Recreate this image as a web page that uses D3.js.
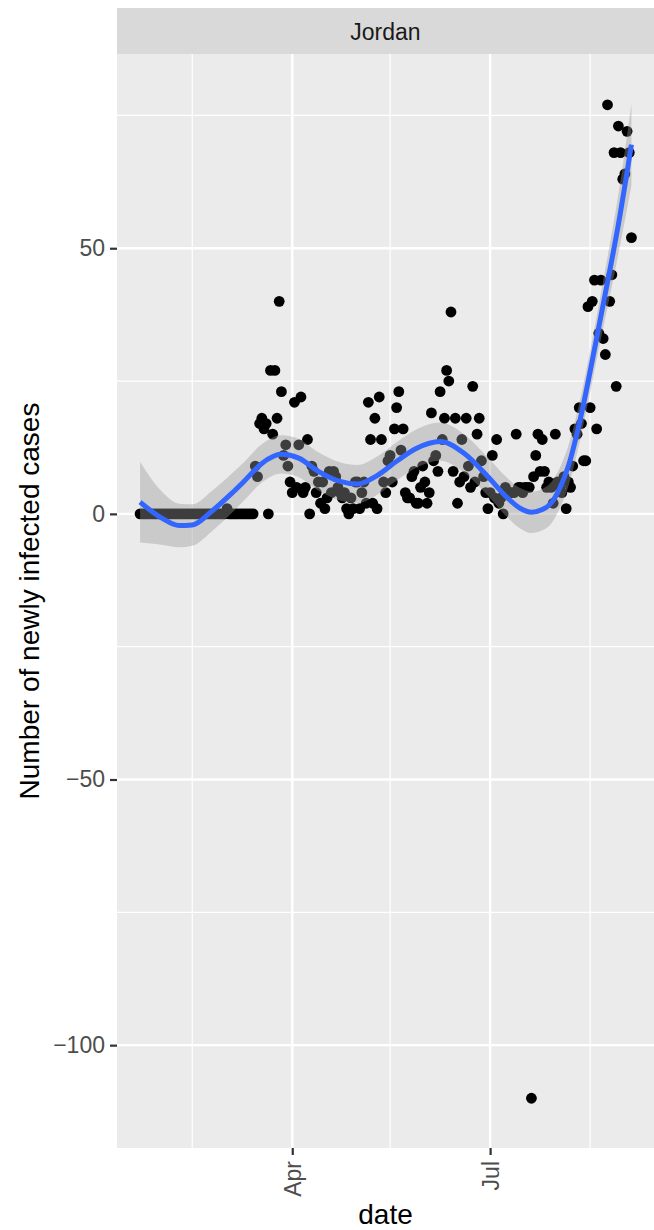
<!DOCTYPE html>
<html>
<head>
<meta charset="utf-8">
<script src="https://cdn.jsdelivr.net/npm/d3@7"></script>
<style>
  body { margin: 0; background: #fff; }
  svg { display: block; font-family: "Liberation Sans", Arial, Helvetica, sans-serif; }
</style>
</head>
<body>
<div id="chart"></div>
<script>
// daily new cases, Jordan, starting 2020-01-22
const country = "Jordan"
const startDate = "2020-01-22"
const cases = [
    0, 0, 0, 0, 0, 0, 0, 0, 0, 0, 0, 0, 0, 0, 0, 0, 0, 0, 0, 0,
    0, 0, 0, 0, 0, 0, 0, 0, 0, 0, 0, 0, 0, 0, 0, 0, 0, 0, 0, 0,
    1, 0, 0, 0, 0, 0, 0, 0, 0, 0, 0, 0, 0,
    9, 7, 17, 18, 16, 17, 0, 27, 15, 27,
    18, 40, 23, 11, 13, 9, 6, 4, 21, 5,
    13, 22, 4, 5, 14, 0, 9, 8, 4, 6,
    2, 6, 1, 3, 8, 4, 8, 7, 5, 4,
    3, 4, 1, 0, 3, 1, 6, 6, 1, 4,
    6, 2, 21, 14, 2, 18, 1, 22, 14, 6,
    4, 10, 11, 6, 16, 20, 23, 12, 16, 4,
    3, 3, 7, 8, 2, 2, 5, 9, 6, 2,
    4, 19, 10, 11, 8, 23, 14, 18, 27, 25,
    38, 8, 18, 2, 6, 14, 7, 18, 9, 5,
    24, 6, 15, 18, 10, 7, 4, 1, 4, 11,
    3, 14, 2, 3, 0, 5, 4, 4, 4, 4,
    15, 5, 5, 4, 5, 5, 5, -110, 7, 11,
    15, 8, 14, 8, 5, 6, 5, 2, 15, 6,
    5, 4, 7, 1, 6, 5, 9, 16, 15, 20,
    17, 10, 10, 39, 20, 40, 44, 16, 34, 44,
    33, 30, 77, 40, 45, 68, 24, 73, 68, 63,
    64, 72, 68, 52
]

// loess smooth (day offset from startDate)
const smoothDays = [0, 10, 18, 24, 33, 42, 48, 56, 65, 73, 82, 92, 100, 109, 118, 127, 138, 149, 160, 169, 175, 180, 185, 189, 193, 197, 203, 209, 214, 220, 226]
const smoothFit = [2.2, -0.8, -2.2, -2.1, 0.5, 3.8, 6.2, 9.5, 11.2, 10.5, 8.0, 6.1, 5.6, 7.2, 9.9, 12.3, 13.6, 11.4, 7.0, 3.0, 1.0, 0.3, 0.8, 2.0, 4.8, 9.0, 18.8, 31.0, 41.5, 54.5, 69.5]
const smoothLower = [-5.4, -5.8, -6.3, -6.0, -3.3, 0.1, 2.6, 5.9, 7.6, 6.9, 4.4, 2.5, 2.0, 3.6, 6.3, 8.7, 10.0, 7.8, 3.4, -0.7, -2.8, -3.6, -3.1, -1.9, 1.0, 5.2, 15.0, 27.0, 36.9, 48.9, 61.8]
const smoothUpper = [9.8, 4.2, 1.9, 1.8, 4.3, 7.5, 9.8, 13.1, 14.8, 14.1, 11.6, 9.7, 9.2, 10.8, 13.5, 15.9, 17.2, 15.0, 10.6, 6.7, 4.8, 4.2, 4.7, 5.9, 8.6, 12.8, 22.6, 35.0, 46.1, 60.1, 77.2]

const xBreaks = ["2020-04-01", "2020-07-01"]
const xLabels = ["Apr", "Jul"]
const xMinor = ["2020-02-15", "2020-05-16", "2020-08-16"]
const yBreaks = [-100, -50, 0, 50]
const yMinor = [-75, -25, 25, 75]

let width = 654
let height = 1230
let panel = { left: 117, right: 654, top: 54, bottom: 1148 }
let stripTop = 8

let parse = d3.timeParse("%Y-%m-%d")
let start = parse(startDate)

let data = cases.map((v, i) => ({ date: d3.timeDay.offset(start, i), value: v }))
let smooth = smoothDays.map((d, i) => ({
    date: d3.timeDay.offset(start, d),
    fit: smoothFit[i],
    lo: smoothLower[i],
    hi: smoothUpper[i]
}))

let svg = d3.select("#chart")
    .append("svg")
    .attr("width", width)
    .attr("height", height)

// 5% expansion like ggplot (right edge of the plot is cut by the window)
let xExt = d3.extent(data, d => d.date)
let xPad = (xExt[1] - xExt[0]) * 0.05
let x = d3.scaleTime()
    .domain([new Date(+xExt[0] - xPad), new Date(+xExt[1] + xPad)])
    .range([115.5, 656])

let yMin = d3.min([d3.min(cases), d3.min(smoothLower)])
let yMax = d3.max([d3.max(cases), d3.max(smoothUpper)])
let yPad = (yMax - yMin) * 0.05
let y = d3.scaleLinear()
    .domain([yMin - yPad, yMax + yPad])
    .range([panel.bottom, panel.top])

svg.append("defs").append("clipPath")
    .attr("id", "clip")
    .append("rect")
    .attr("x", panel.left)
    .attr("y", panel.top)
    .attr("width", width - panel.left)
    .attr("height", panel.bottom - panel.top)

// strip
svg.append("rect")
    .attr("x", panel.left)
    .attr("y", stripTop)
    .attr("width", width - panel.left)
    .attr("height", panel.top - stripTop)
    .style("fill", "#D9D9D9")

svg.append("text")
    .attr("x", (panel.left + width) / 2)
    .attr("y", 40)
    .attr("text-anchor", "middle")
    .style("font-size", "23px")
    .style("fill", "#1A1A1A")
    .text(country)

// panel
svg.append("rect")
    .attr("x", panel.left)
    .attr("y", panel.top)
    .attr("width", width - panel.left)
    .attr("height", panel.bottom - panel.top)
    .style("fill", "#EBEBEB")

let grid = svg.append("g").attr("clip-path", "url(#clip)")

grid.selectAll(".yminor")
    .data(yMinor)
    .enter()
    .append("line")
    .attr("x1", panel.left).attr("x2", width)
    .attr("y1", d => y(d)).attr("y2", d => y(d))
    .style("stroke", "#fff")
    .style("stroke-width", 1.2)

grid.selectAll(".xminor")
    .data(xMinor)
    .enter()
    .append("line")
    .attr("x1", d => x(parse(d))).attr("x2", d => x(parse(d)))
    .attr("y1", panel.top).attr("y2", panel.bottom)
    .style("stroke", "#fff")
    .style("stroke-width", 1.2)

grid.selectAll(".ymajor")
    .data(yBreaks)
    .enter()
    .append("line")
    .attr("x1", panel.left).attr("x2", width)
    .attr("y1", d => y(d)).attr("y2", d => y(d))
    .style("stroke", "#fff")
    .style("stroke-width", 2.4)

grid.selectAll(".xmajor")
    .data(xBreaks)
    .enter()
    .append("line")
    .attr("x1", d => x(parse(d))).attr("x2", d => x(parse(d)))
    .attr("y1", panel.top).attr("y2", panel.bottom)
    .style("stroke", "#fff")
    .style("stroke-width", 2.4)

let plot = svg.append("g").attr("clip-path", "url(#clip)")

plot.selectAll(".point")
    .data(data)
    .enter()
    .append("circle")
    .attr("class", "point")
    .attr("cx", d => x(d.date))
    .attr("cy", d => y(d.value))
    .attr("r", 5.4)
    .style("fill", "#000")

let band = d3.area()
    .x(d => x(d.date))
    .y0(d => y(d.lo))
    .y1(d => y(d.hi))
    .curve(d3.curveMonotoneX)

plot.append("path")
    .datum(smooth)
    .attr("d", band)
    .style("fill", "#999999")
    .style("opacity", 0.4)

let line = d3.line()
    .x(d => x(d.date))
    .y(d => y(d.fit))
    .curve(d3.curveMonotoneX)

plot.append("path")
    .datum(smooth)
    .attr("d", line)
    .style("fill", "none")
    .style("stroke", "#3366FF")
    .style("stroke-width", 5)

// axes
let yAxis = d3.axisLeft(y)
    .tickValues(yBreaks)
    .tickSize(7)
    .tickPadding(5)
    .tickFormat(d => d < 0 ? "\u2212" + Math.abs(d) : d)

let gy = svg.append("g")
    .attr("transform", "translate(" + panel.left + ",0)")
    .call(yAxis)
gy.select(".domain").remove()
gy.selectAll(".tick line").style("stroke", "#333333").style("stroke-width", 2.2)
gy.selectAll(".tick text")
    .style("font-size", "23px")
    .style("fill", "#4D4D4D")
    .style("font-family", "'Liberation Sans', Arial, sans-serif")

let xAxis = d3.axisBottom(x)
    .tickValues(xBreaks.map(parse))
    .tickSize(7)
    .tickFormat((d, i) => xLabels[i])

let gx = svg.append("g")
    .attr("transform", "translate(0," + panel.bottom + ")")
    .call(xAxis)
gx.select(".domain").remove()
gx.selectAll(".tick line").style("stroke", "#333333").style("stroke-width", 2.2)
gx.selectAll(".tick text")
    .attr("transform", "rotate(-90)")
    .attr("x", -13)
    .attr("y", 0)
    .attr("dy", "0.35em")
    .attr("text-anchor", "end")
    .style("font-size", "23px")
    .style("fill", "#4D4D4D")
    .style("font-family", "'Liberation Sans', Arial, sans-serif")

svg.append("text")
    .attr("x", (panel.left + width) / 2)
    .attr("y", 1224)
    .attr("text-anchor", "middle")
    .style("font-size", "28px")
    .style("fill", "#000")
    .text("date")

svg.append("text")
    .attr("transform", "translate(39," + (panel.top + panel.bottom) / 2 + ") rotate(-90)")
    .attr("text-anchor", "middle")
    .style("font-size", "28px")
    .style("fill", "#000")
    .text("Number of newly infected cases")
</script>
</body>
</html>
